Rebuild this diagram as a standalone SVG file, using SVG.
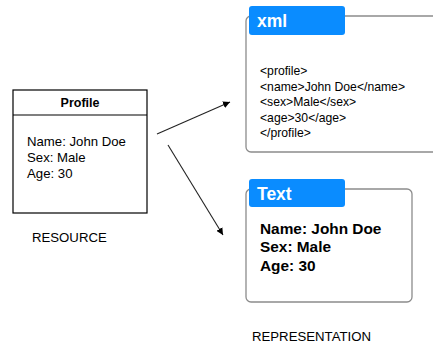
<svg xmlns="http://www.w3.org/2000/svg" width="433" height="344" viewBox="0 0 433 344">
<style>
text{font-family:"Liberation Sans",Arial,sans-serif;fill:#000}
.frame{fill:#fff;stroke:#8c8c8c;stroke-width:1.3}
.tab{fill:#0a8cff}
.tabt{fill:#fff;font-weight:bold;font-size:17.5px}
.conn{stroke:#222;stroke-width:1.1;fill:none}
.x{font-size:12.2px}
.b{font-size:15.4px;font-weight:bold}
.r{font-size:13.2px}
</style>
<defs>
<marker id="ah" viewBox="0 0 10 10" refX="10" refY="5" markerWidth="7" markerHeight="7" orient="auto" markerUnits="userSpaceOnUse"><path d="M0,0 L10,5 L0,10 z" fill="#000"/></marker>
</defs>
<g id="resource">
<rect x="13" y="90" width="134" height="123" fill="#fff" stroke="#000" stroke-width="1.2"/>
<line x1="13" y1="115" x2="147" y2="115" stroke="#000" stroke-width="1.2"/>
<text x="80" y="107" font-size="12.5" font-weight="bold" text-anchor="middle">Profile</text>
<text class="r" x="27" y="146">Name: John Doe</text>
<text class="r" x="27" y="162">Sex: Male</text>
<text class="r" x="27" y="178">Age: 30</text>
<text class="r" x="32" y="242">RESOURCE</text>
</g>
<g id="xml">
<rect class="frame" x="246" y="16" width="200" height="136" rx="5"/>
<rect class="tab" x="249" y="6" width="96" height="29" rx="3"/>
<text class="tabt" x="257" y="27">xml</text>
<text class="x" x="260" y="75">&lt;profile&gt;</text>
<text class="x" x="260" y="91">&lt;name&gt;John Doe&lt;/name&gt;</text>
<text class="x" x="260" y="106">&lt;sex&gt;Male&lt;/sex&gt;</text>
<text class="x" x="260" y="122">&lt;age&gt;30&lt;/age&gt;</text>
<text class="x" x="260" y="137">&lt;/profile&gt;</text>
</g>
<g id="text">
<rect class="frame" x="246" y="189" width="166" height="113" rx="5"/>
<rect class="tab" x="249" y="179" width="96" height="28" rx="3"/>
<text class="tabt" x="257" y="200">Text</text>
<text class="b" x="260" y="234">Name: John Doe</text>
<text class="b" x="260" y="252">Sex: Male</text>
<text class="b" x="260" y="271">Age: 30</text>
<text class="r" x="252" y="341">REPRESENTATION</text>
</g>
<g id="connectors">
<line class="conn" x1="157" y1="134" x2="230" y2="102" marker-end="url(#ah)"/>
<line class="conn" x1="168" y1="145" x2="223" y2="235" marker-end="url(#ah)"/>
</g>
</svg>
